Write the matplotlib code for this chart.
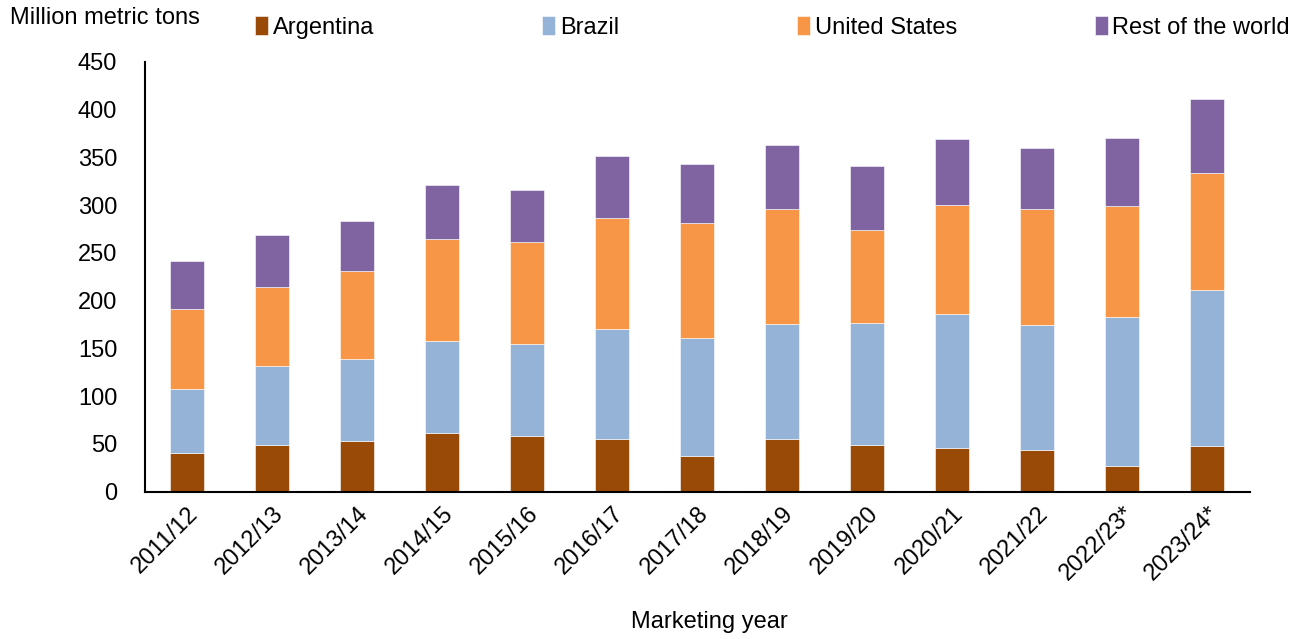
import numpy as np
import matplotlib
matplotlib.use("Agg")
import matplotlib.pyplot as plt

plt.rcParams['font.family'] = ['Liberation Sans', 'DejaVu Sans']

years = ["2011/12", "2012/13", "2013/14", "2014/15", "2015/16", "2016/17",
         "2017/18", "2018/19", "2019/20", "2020/21", "2021/22", "2022/23*", "2023/24*"]
argentina = [40, 49, 53, 61, 58.5, 55, 37.5, 55, 48.4, 46, 44, 27, 48]
brazil = [67, 82, 86, 97, 95.7, 115, 123.7, 121, 128.5, 140, 130, 155.5, 163]
united_states = [84, 83, 92, 107, 107.2, 117, 120.1, 120.5, 97, 114.5, 122, 116.3, 123]
rest_of_world = [50, 55, 52, 56, 54.5, 64, 62.2, 67, 67, 68.5, 64, 72, 77]

names = ["Argentina", "Brazil", "United States", "Rest of the world"]
colors = ["#994a06", "#95b3d7", "#f79646", "#8064a2"]
series = [argentina, brazil, united_states, rest_of_world]

fig = plt.figure(figsize=(13, 6.39), dpi=100)
ax = fig.add_axes([0.1115, 0.2308, 0.85, 0.6722])

x = np.arange(len(years))
bottom = np.zeros(len(years))
bars = []
for vals, c in zip(series, colors):
    b = ax.bar(x, vals, 0.4, bottom=bottom, color=c, edgecolor="white", linewidth=0.4)
    bars.append(b)
    bottom += np.array(vals)

ax.set_xlim(-0.5, 12.5)
ax.set_ylim(0, 450)
ax.set_yticks(range(0, 451, 50))
ax.set_xticks(x)
ax.set_xticklabels(years, rotation=45, ha="right", rotation_mode="anchor")
ax.tick_params(axis="both", length=0, labelsize=17)
ax.tick_params(axis="y", pad=20)
ax.tick_params(axis="x", pad=8)
for s in ["top", "right"]:
    ax.spines[s].set_visible(False)
for s in ["left", "bottom"]:
    ax.spines[s].set_linewidth(1.5)
    ax.spines[s].set_color("black")

fig.text(0.0077, 0.972, "Million metric tons", fontsize=17, va="center", ha="left")
fig.text(0.546, 0.026, "Marketing year", fontsize=17, va="center", ha="center")

legend_x = [0.196, 0.417, 0.613, 0.842]
for b, name, lx in zip(bars, names, legend_x):
    fig.legend([b], [name], loc="center left", bbox_to_anchor=(lx, 0.957),
               frameon=False, fontsize=17, handlelength=0.55, handleheight=0.85,
               handletextpad=0.2, borderpad=0, borderaxespad=0)

fig.savefig("out.png", dpi=100)
